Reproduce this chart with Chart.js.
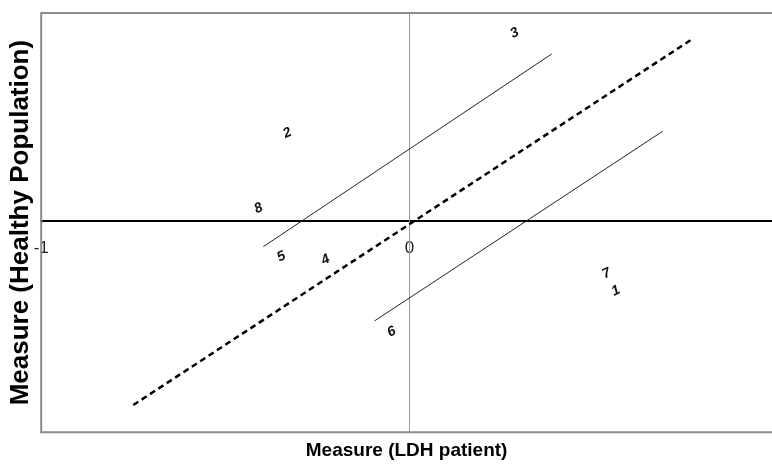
<!DOCTYPE html>
<html>
<head>
<meta charset="utf-8">
<script src="https://cdn.jsdelivr.net/npm/chart.js@4"></script>
<style>
  body { margin: 0; background: #fff; }
</style>
</head>
<body>
<canvas id="chart" width="772" height="464"></canvas>
<script>
// case numbers and where they sit
const caseLabels = ['1', '2', '3', '4', '5', '6', '7', '8'];
const caseX = [0.560, -0.332, 0.285, -0.228, -0.348, -0.049, 0.535, -0.410];
const caseY = [-0.285, 0.354, 0.760, -0.159, -0.146, -0.451, -0.215, 0.049];

// dashed identity line and the two bands
const identityX = [-0.75, 0.764];
const identityY = [-0.748, 0.732];
const upperX = [-0.397, 0.386];
const upperY = [-0.106, 0.675];
const lowerX = [-0.095, 0.6875];
const lowerY = [-0.407, 0.362];

const xTicks = [-1, 0, 1];

function pairs(xs, ys) {
    return xs.map((x, i) => ({ x: x, y: ys[i] }));
}

const frame = {
    id: 'frame',
    beforeDatasetsDraw(chart) {
        const { ctx, chartArea } = chart;
        ctx.save();
        ctx.strokeStyle = '#8c8c8c';
        ctx.lineWidth = 2;
        ctx.beginPath();
        ctx.moveTo(chart.width + 5, chartArea.top);
        ctx.lineTo(chartArea.left, chartArea.top);
        ctx.lineTo(chartArea.left, chartArea.bottom);
        ctx.lineTo(chart.width + 5, chartArea.bottom);
        ctx.stroke();
        ctx.restore();
    }
};

const caseText = {
    id: 'caseText',
    afterDatasetsDraw(chart) {
        const ctx = chart.ctx;
        const meta = chart.getDatasetMeta(0);
        ctx.save();
        ctx.font = 'italic bold 14px "Liberation Sans", Arial, sans-serif';
        ctx.fillStyle = '#111';
        ctx.textAlign = 'center';
        ctx.textBaseline = 'middle';
        meta.data.forEach((pt, i) => {
            ctx.save();
            ctx.translate(pt.x, pt.y);
            ctx.rotate(-0.45);
            ctx.fillText(caseLabels[i], 0, 0);
            ctx.restore();
        });
        ctx.restore();
    }
};

const hidden = { display: false, drawTicks: false };

new Chart(document.getElementById('chart'), {
    type: 'scatter',
    data: {
        datasets: [{
            data: pairs(caseX, caseY),
            pointRadius: 0
        }, {
            type: 'line',
            data: pairs(identityX, identityY),
            borderColor: '#000',
            borderWidth: 2.5,
            borderDash: [6, 4],
            pointRadius: 0
        }, {
            type: 'line',
            data: pairs(upperX, upperY),
            borderColor: '#222',
            borderWidth: 1,
            pointRadius: 0
        }, {
            type: 'line',
            data: pairs(lowerX, lowerY),
            borderColor: '#222',
            borderWidth: 1,
            pointRadius: 0
        }]
    },
    options: {
        responsive: false,
        animation: false,
        layout: { padding: { left: 5, top: 13, right: 0, bottom: 0 } },
        plugins: {
            legend: { display: false },
            tooltip: { enabled: false }
        },
        scales: {
            x: {
                type: 'linear',
                min: -1,
                max: 0.984,
                position: { y: 0 },
                grid: hidden,
                border: { display: true, color: '#000', width: 2 },
                afterBuildTicks: scale => {
                    scale.ticks = xTicks.map(v => ({ value: v }));
                },
                afterFit: scale => {
                    // the axis sits inside the plot, so its labels must not shrink it
                    scale.paddingLeft = 0;
                    scale.paddingRight = 0;
                },
                ticks: {
                    autoSkip: false,
                    padding: 18,
                    color: '#222',
                    font: { family: '"Liberation Sans", Arial, sans-serif', size: 17 }
                }
            },
            y: {
                type: 'linear',
                min: -0.858,
                max: 0.841,
                position: { x: 0 },
                grid: hidden,
                border: { display: true, color: '#999', width: 1 },
                ticks: { display: false }
            },
            xTitle: {
                type: 'linear',
                axis: 'x',
                position: 'bottom',
                min: -1,
                max: 0.984,
                grid: hidden,
                border: { display: false },
                ticks: { display: false },
                title: {
                    display: true,
                    text: 'Measure (LDH patient)',
                    color: '#000',
                    padding: { top: 7, bottom: 2 },
                    font: { family: '"Liberation Sans", Arial, sans-serif', size: 19, weight: 'bold' }
                }
            },
            yTitle: {
                type: 'linear',
                axis: 'y',
                position: 'left',
                min: -0.858,
                max: 0.841,
                grid: hidden,
                border: { display: false },
                ticks: { display: false },
                title: {
                    display: true,
                    text: 'Measure (Healthy Population)',
                    color: '#000',
                    padding: { top: 0, bottom: 5 },
                    font: { family: '"Liberation Sans", Arial, sans-serif', size: 26, weight: 'bold' }
                }
            }
        }
    },
    plugins: [frame, caseText]
});
</script>
</body>
</html>
